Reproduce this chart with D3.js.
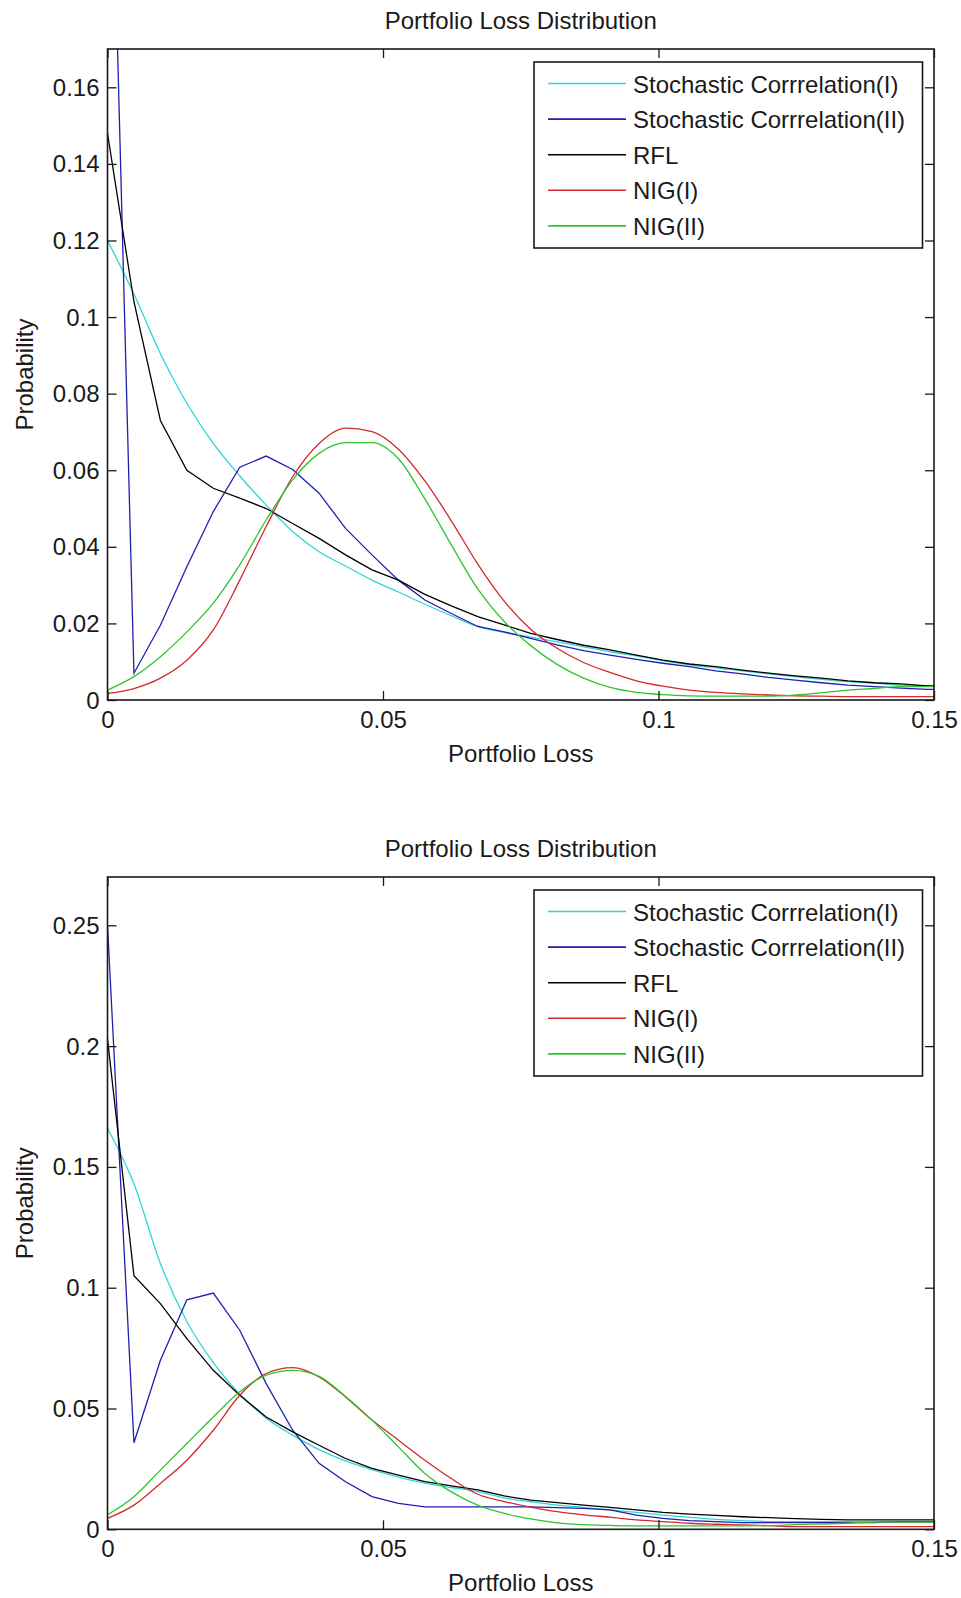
<!DOCTYPE html>
<html>
<head>
<meta charset="utf-8">
<script src="https://cdn.jsdelivr.net/npm/d3@7"></script>
<style>
  html, body { margin: 0; padding: 0; background: #fff; }
  svg text { font-family: "Liberation Sans", Arial, sans-serif; fill: #1a1a1a; }
</style>
</head>
<body>
<svg id="chart" width="961" height="1598"></svg>
<script>
// ---------- data ----------
const lossGrid = [0,0.0048,0.0096,0.0144,0.0192,0.024,0.0288,0.0336,0.0384,0.0432,0.048,0.0528,0.0576,0.0624,0.0672,0.072,0.0768,0.0816,0.0864,0.0912,0.096,0.1008,0.1056,0.1104,0.1152,0.12,0.1248,0.1296,0.1344,0.1392,0.144,0.1488,0.1536];

const seriesNames = ["Stochastic Corrrelation(I)", "Stochastic Corrrelation(II)", "RFL", "NIG(I)", "NIG(II)"];
const seriesColors = ["#2fd6d6", "#1f1fb0", "#000000", "#d22a2a", "#2ec42e"];
const seriesSmooth = [true, false, false, true, true];

// top panel
const top_SC1 = [0.120,0.106,0.0905,0.0775,0.0670,0.0585,0.0509,0.0440,0.0387,0.0350,0.0313,0.0282,0.0250,0.0220,0.0192,0.0176,0.0164,0.0152,0.0139,0.0126,0.0115,0.0103,0.0092,0.0084,0.0076,0.0068,0.0061,0.0054,0.0048,0.0044,0.0039,0.0037,0.0035];
const top_SC2 = [0.270,0.0070,0.0195,0.0348,0.0492,0.0608,0.0637,0.0602,0.0540,0.0448,0.0379,0.0313,0.0261,0.0226,0.0192,0.0178,0.0161,0.0144,0.0129,0.0117,0.0106,0.0096,0.0087,0.0076,0.0068,0.0059,0.0052,0.0045,0.0039,0.0035,0.0031,0.0028,0.0026];
const top_RFL = [0.148,0.104,0.073,0.0600,0.0553,0.0527,0.0500,0.0461,0.0422,0.0379,0.0340,0.0313,0.0276,0.0246,0.0218,0.0196,0.0174,0.0158,0.0143,0.0131,0.0117,0.0104,0.0094,0.0087,0.0078,0.0070,0.0063,0.0057,0.0050,0.0045,0.0042,0.0037,0.0035];
const top_NIG1 = [0.0017,0.0030,0.0057,0.0104,0.0183,0.0313,0.0453,0.0583,0.0670,0.0710,0.0701,0.0655,0.0572,0.0468,0.0355,0.0258,0.0185,0.0135,0.0098,0.0072,0.0050,0.0036,0.0026,0.0020,0.0016,0.0013,0.0011,0.0010,0.0009,0.0009,0.0009,0.0009,0.0009];
const top_NIG2 = [0.0026,0.0061,0.0113,0.0178,0.0253,0.0353,0.0470,0.0575,0.0644,0.0672,0.0672,0.0630,0.0525,0.0405,0.0290,0.0205,0.0142,0.0093,0.0057,0.0033,0.0020,0.0014,0.0011,0.0010,0.0010,0.0010,0.0013,0.0019,0.0026,0.0030,0.0035,0.0035,0.0035];

// bottom panel
const bot_SC1 = [0.166,0.143,0.110,0.086,0.069,0.056,0.046,0.039,0.033,0.0283,0.0247,0.0216,0.0191,0.0173,0.0156,0.0130,0.0114,0.0100,0.0091,0.0080,0.0070,0.0059,0.0049,0.0041,0.0036,0.0032,0.0032,0.0032,0.0032,0.0032,0.0032,0.0032,0.0032];
const bot_SC2 = [0.250,0.0358,0.070,0.095,0.0978,0.0824,0.0603,0.041,0.0273,0.0197,0.0135,0.0107,0.0093,0.0093,0.0093,0.0093,0.0093,0.0090,0.0087,0.0080,0.0059,0.0045,0.0036,0.0032,0.0028,0.0028,0.0028,0.0028,0.0028,0.0028,0.0032,0.0032,0.0032];
const bot_RFL = [0.203,0.105,0.0934,0.0789,0.0658,0.0555,0.0465,0.0403,0.0348,0.0293,0.0252,0.0224,0.0197,0.0180,0.0163,0.0138,0.0121,0.0110,0.0100,0.0091,0.0080,0.0070,0.0063,0.0058,0.0052,0.0048,0.0044,0.0041,0.0039,0.0039,0.0039,0.0039,0.0039];
const bot_NIG1 = [0.0045,0.0100,0.0190,0.0286,0.0410,0.0555,0.0645,0.0669,0.0631,0.0548,0.0452,0.0369,0.0286,0.0210,0.0145,0.0115,0.0092,0.0073,0.0060,0.0050,0.0039,0.0032,0.0025,0.0021,0.0018,0.0015,0.0011,0.0011,0.0011,0.0011,0.0011,0.0011,0.0011];
const bot_NIG2 = [0.0060,0.0135,0.0245,0.0355,0.0465,0.0569,0.0638,0.0658,0.0633,0.0550,0.0452,0.0341,0.0231,0.0155,0.0100,0.0066,0.0043,0.0027,0.0019,0.0016,0.0014,0.0014,0.0014,0.0014,0.0014,0.0015,0.0019,0.0022,0.0025,0.0030,0.0030,0.0030,0.0030];

const xTicks = [0, 0.05, 0.1, 0.15];
const xTickLabels = ["0", "0.05", "0.1", "0.15"];
const topYTicks = [0, 0.02, 0.04, 0.06, 0.08, 0.1, 0.12, 0.14, 0.16];
const topYTickLabels = ["0", "0.02", "0.04", "0.06", "0.08", "0.1", "0.12", "0.14", "0.16"];
const botYTicks = [0, 0.05, 0.1, 0.15, 0.2, 0.25];
const botYTickLabels = ["0", "0.05", "0.1", "0.15", "0.2", "0.25"];

const titleText = "Portfolio Loss Distribution";
const xLabelText = "Portfolio Loss";
const yLabelText = "Probability";

// ---------- drawing ----------
const svg = d3.select("#chart");
const FS = 24;

function drawPanel(cfg, idx) {
  const L = 107.5, R = 934, T = cfg.top, B = cfg.bottom;
  const x = d3.scaleLinear().domain([0, 0.15]).range([L, R]);
  const y = d3.scaleLinear().domain([0, cfg.ymax]).range([B, T]);
  const g = svg.append("g");

  const clipId = "clip" + idx;
  svg.append("defs").append("clipPath").attr("id", clipId)
    .append("rect").attr("x", L).attr("y", T).attr("width", R - L).attr("height", B - T);

  // series lines
  const lg = g.append("g").attr("clip-path", `url(#${clipId})`);
  cfg.series.forEach((s, i) => {
    const line = d3.line().x((d, j) => x(lossGrid[j])).y(d => y(d))
      .curve(seriesSmooth[i] ? d3.curveMonotoneX : d3.curveLinear);
    lg.append("path").datum(s)
      .attr("d", line)
      .attr("fill", "none")
      .attr("stroke", seriesColors[i])
      .attr("stroke-width", 1.3)
      .attr("stroke-linejoin", "miter");
  });

  // axes (inward ticks, box)
  const tl = 9;
  const axB = d3.axisBottom(x).tickValues(xTicks).tickSize(-tl).tickFormat((d, i) => xTickLabels[i]);
  const axT = d3.axisTop(x).tickValues(xTicks).tickSize(-tl).tickFormat("");
  const axL = d3.axisLeft(y).tickValues(cfg.yTicks).tickSize(-tl).tickFormat((d, i) => cfg.yLabels[i]);
  const axR = d3.axisRight(y).tickValues(cfg.yTicks).tickSize(-tl).tickFormat("");

  const gb = g.append("g").attr("transform", `translate(0,${B})`).call(axB);
  const gt = g.append("g").attr("transform", `translate(0,${T})`).call(axT);
  const gl = g.append("g").attr("transform", `translate(${L},0)`).call(axL);
  const gr = g.append("g").attr("transform", `translate(${R},0)`).call(axR);
  [gb, gt, gl, gr].forEach(a => {
    a.select(".domain").remove();
    a.selectAll(".tick line").attr("stroke", "#1a1a1a").attr("stroke-width", 1.3);
    a.selectAll("text").attr("font-size", FS).attr("fill", "#1a1a1a")
      .style("font-family", '"Liberation Sans", Arial, sans-serif');
  });
  gb.selectAll(".tick text").attr("dy", null).attr("y", 28);
  gl.selectAll(".tick text").attr("dy", null).attr("y", 8).attr("x", -8);

  g.append("rect").attr("x", L).attr("y", T).attr("width", R - L).attr("height", B - T)
    .attr("fill", "none").attr("stroke", "#1a1a1a").attr("stroke-width", 1.6);

  // title & labels
  g.append("text").attr("x", (L + R) / 2).attr("y", T - 20).attr("text-anchor", "middle")
    .attr("font-size", FS).text(titleText);
  g.append("text").attr("x", (L + R) / 2).attr("y", B + 62).attr("text-anchor", "middle")
    .attr("font-size", FS).text(xLabelText);
  g.append("text").attr("transform", `translate(33,${(T + B) / 2}) rotate(-90)`)
    .attr("text-anchor", "middle").attr("font-size", FS).text(yLabelText);

  // legend
  const lx0 = 534, lx1 = 922.5, ly0 = T + 13, rowH = 35.6;
  const leg = g.append("g");
  leg.append("rect").attr("x", lx0).attr("y", ly0).attr("width", lx1 - lx0).attr("height", 186)
    .attr("fill", "#fff").attr("stroke", "#1a1a1a").attr("stroke-width", 1.6);
  seriesNames.forEach((n, i) => {
    const ry = ly0 + 21.5 + i * rowH;
    leg.append("line").attr("x1", 548).attr("x2", 626).attr("y1", ry).attr("y2", ry)
      .attr("stroke", seriesColors[i]).attr("stroke-width", 1.6);
    leg.append("text").attr("x", 633).attr("y", ry + 9).attr("font-size", FS).text(n);
  });
}

drawPanel({ top: 49, bottom: 700, ymax: 0.17, yTicks: topYTicks, yLabels: topYTickLabels,
  series: [top_SC1, top_SC2, top_RFL, top_NIG1, top_NIG2] }, 0);
drawPanel({ top: 877, bottom: 1529.3, ymax: 0.27, yTicks: botYTicks, yLabels: botYTickLabels,
  series: [bot_SC1, bot_SC2, bot_RFL, bot_NIG1, bot_NIG2] }, 1);
</script>
</body>
</html>
